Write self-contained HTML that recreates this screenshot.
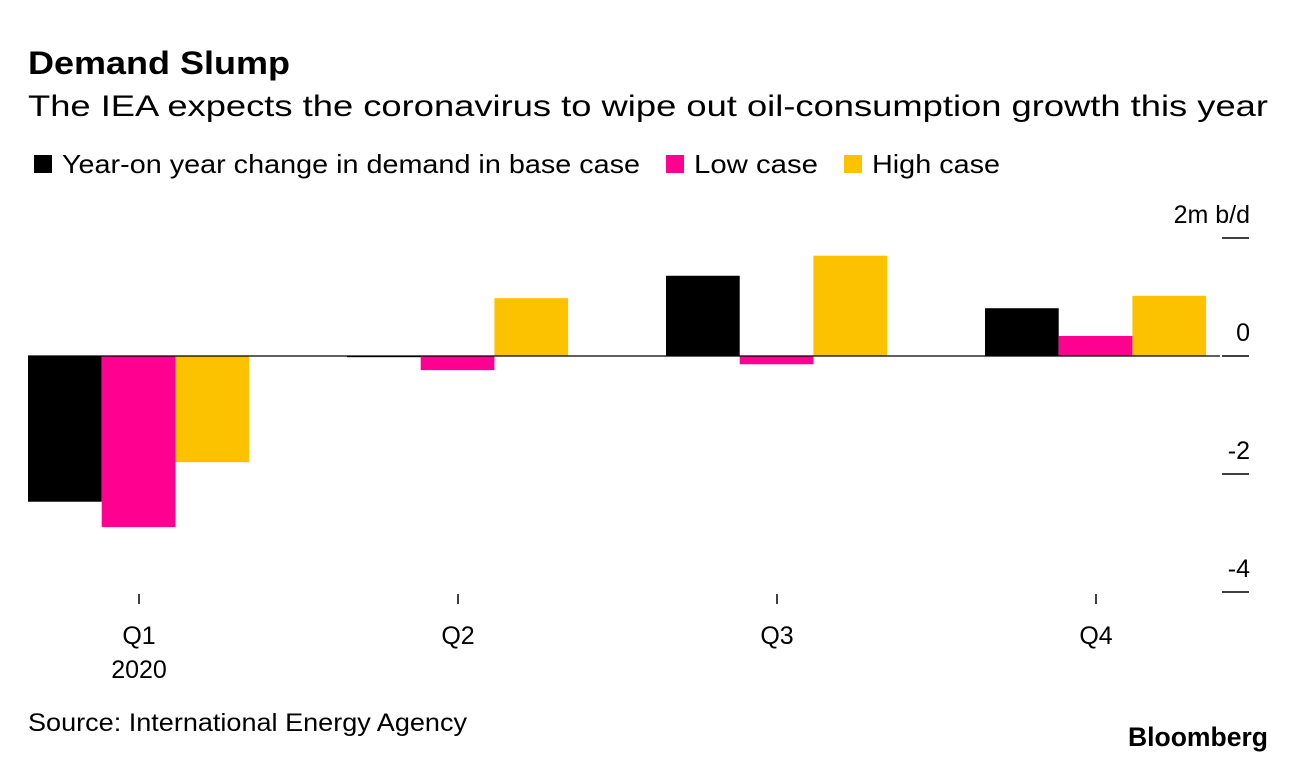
<!DOCTYPE html>
<html><head><meta charset="utf-8">
<style>
body{margin:0;background:#fff;width:1296px;height:762px;overflow:hidden;font-family:"Liberation Sans",Arial,sans-serif;color:#000}
svg{position:absolute;left:0;top:0}
</style></head>
<body>
<svg width="1296" height="762">
<text x="28" y="74" font-size="32" font-weight="bold" textLength="262" lengthAdjust="spacingAndGlyphs">Demand Slump</text>
<text x="28" y="116" font-size="30" textLength="1240" lengthAdjust="spacingAndGlyphs">The IEA expects the coronavirus to wipe out oil-consumption growth this year</text>
<g>
<rect x="34" y="155" width="18" height="18" fill="#000"/>
<text x="62" y="173" font-size="26" textLength="578" lengthAdjust="spacingAndGlyphs">Year-on year change in demand in base case</text>
<rect x="666" y="155" width="18" height="18" fill="#ff0090"/>
<text x="694" y="173" font-size="26" textLength="124" lengthAdjust="spacingAndGlyphs">Low case</text>
<rect x="844" y="155" width="18" height="18" fill="#fcc200"/>
<text x="872" y="173" font-size="26" textLength="128" lengthAdjust="spacingAndGlyphs">High case</text>
</g>
<g id="plot"></g>
<text x="28" y="731" font-size="25" textLength="439" lengthAdjust="spacingAndGlyphs">Source: International Energy Agency</text>
<text x="1128" y="746" font-size="27" font-weight="bold" textLength="140" lengthAdjust="spacingAndGlyphs">Bloomberg</text>
</svg>
<script>
const categories=["Q1","Q2","Q3","Q4"];
const baseCase=[-2.47,-0.02,1.36,0.81];
const lowCase=[-2.9,-0.24,-0.14,0.34];
const highCase=[-1.8,0.98,1.7,1.02];
const yTicks=[2,0,-2,-4];
const yTickLabels=["2m b/d","0","-2","-4"];
const NS="http://www.w3.org/2000/svg";
const g=document.getElementById('plot');
const y=v=>356-v*59;
const groupX=i=>139+i*319;
const bw=73.7;
function mk(t,a){const e=document.createElementNS(NS,t);for(const k in a)e.setAttribute(k,a[k]);g.appendChild(e);return e;}
const series=[[baseCase,"#000","base"],[lowCase,"#ff0090","low"],[highCase,"#fcc200","high"]];
categories.forEach((c,i)=>{
  series.forEach(([arr,col,nm],s)=>{
    const v=arr[i];const x=groupX(i)-111+s*bw;
    const r=mk('rect',{x:x,y:Math.min(y(v),y(0)),width:bw,height:Math.max(Math.abs(y(v)-y(0)),1),fill:col});
    
    
  });
  const t=mk('line',{x1:groupX(i),x2:groupX(i),y1:594,y2:604,stroke:'#000','stroke-width':1.5});
  
  
  const l=mk('text',{x:groupX(i),y:644,'font-size':25,'text-anchor':'middle'});l.textContent=c;
  
  
});
const yr=mk('text',{x:groupX(0),y:678,'font-size':25,'text-anchor':'middle'});yr.textContent="2020";


const z=mk('line',{x1:28,x2:1220,y1:y(0),y2:y(0),stroke:'#000','stroke-width':1.2});


yTicks.forEach((v,i)=>{
  const t=mk('line',{x1:1222,x2:1249,y1:y(v),y2:y(v),stroke:'#000','stroke-width':1.5});
  
  
  const l=mk('text',{x:1250,y:y(v)-15,'font-size':25,'text-anchor':'end'});l.textContent=yTickLabels[i];
  
  
});
</script>
</body></html>
